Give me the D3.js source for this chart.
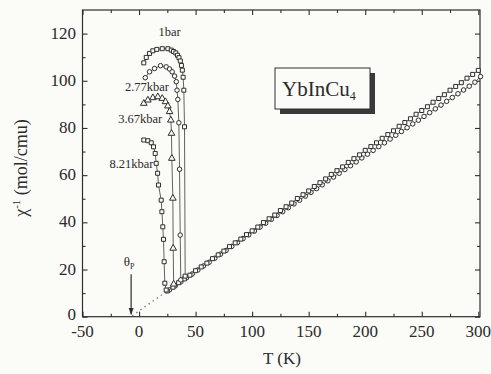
<!DOCTYPE html>
<html>
<head>
<meta charset="utf-8">
<script src="https://d3js.org/d3.v7.min.js"></script>
<style>
  body { margin: 0; background: #fbfbf8; }
  svg { display: block; }
  text, tspan { font-family: "Liberation Serif", "Times New Roman", serif; fill: #2a2a2a; }
</style>
</head>
<body>
<svg id="chart" width="491" height="374"></svg>
<script>
// ---- data ----
var xTicks = [-50, 0, 50, 100, 150, 200, 250, 300];
var yTicks = [0, 20, 40, 60, 80, 100, 120];

// low temperature branches, [T, 1/chi]
var p1bar = [[4.2,107.6],[6.4,109.9],[9.3,111.6],[12.2,112.7],[15.7,113.3],[20.5,113.6],[25.5,113.6],[28.5,113.0],[30.5,112.4],[32.5,111.8],[34,110.8],[35.3,109.8],[36.5,108.4],[37.5,106.5],[38.3,104.5],[39,101.5],[39.6,96],[40.2,80.5],[40.8,17.2]];
var p277 = [[5.5,101.3],[9.3,103.8],[13.7,105.2],[19,106.4],[24,105.9],[27,105],[29.3,103.8],[31.4,102],[32.9,99.6],[33.6,96],[34.3,92.1],[35.2,82.2],[35.8,62.5],[36.4,34.6],[36.9,15.6]];
var p367 = [[4.2,90.4],[7.8,91.8],[12.2,92.8],[16.6,93.2],[20.5,92.5],[23.4,91.1],[25.5,89.3],[27,86.9],[28.1,83.3],[28.7,77.7],[29,67.1],[29.9,50.2],[30.2,29],[30.6,13.8]];
var p821 = [[4.2,74.9],[7.8,74.6],[10.8,73.7],[12.8,72],[14.3,69.2],[15.2,65],[16.4,60.8],[17.2,55.8],[19.6,49.4],[20.2,44.5],[21,38.1],[21.6,32.8],[22.2,23.3],[22.8,14.2],[24,11.3]];

// high temperature Curie-Weiss part (two overlapping runs)
var highT_T = [25,30,35,40,45,50,55,60,65,70,75,80,85,90,95,100,105,110,115,120,125,130,135,140,145,150,155,160,165,170,175,180,185,190,195,200,205,210,215,220,225,230,235,240,245,250,255,260,265,270,275,280,285,290,295,300];
var highT_A = [10.9,12.5,14.4,16.0,17.6,19.5,21.1,22.7,24.6,26.2,27.8,29.7,31.3,32.9,34.8,36.4,38.0,39.9,41.5,43.1,45.0,46.6,48.2,50.1,51.7,53.3,55.2,56.8,58.4,60.3,61.9,63.5,65.4,67.0,68.6,70.5,72.1,73.7,75.6,77.2,78.8,80.7,82.3,83.9,85.8,87.4,89.0,90.9,92.5,94.1,96.0,97.6,99.2,101.1,102.7,104.4];
var highT_T2 = [27,32,37,42,47,52,57,62,67,72,77,82,87,92,97,102,107,112,117,122,127,132,137,142,147,152,157,162,167,172,177,182,187,192,197,202,207,212,217,222,227,232,237,242,247,252,257,262,267,272,277,282,287,292,297,302];
var highT_B = [11.4,13.1,14.8,16.5,18.1,19.8,21.5,23.1,24.8,26.5,28.1,29.8,31.4,33.1,34.7,36.3,38.0,39.6,41.3,42.9,44.5,46.2,47.8,49.4,51.1,52.7,54.3,55.9,57.6,59.2,60.8,62.4,64.0,65.6,67.3,68.9,70.5,72.1,73.7,75.3,76.9,78.5,80.1,81.7,83.3,84.9,86.5,88.1,89.7,91.3,92.9,94.5,96.1,97.7,99.4,101.8];

var thetaP = -7;
var dottedLine = [[-6,0.4],[24,10.6]];

var pressureLabels = [
  { text: "1bar", T: 27, v: 119, anchor: "middle" },
  { text: "2.77kbar", T: 26.5, v: 95.7, anchor: "end" },
  { text: "3.67kbar", T: 20.5, v: 81.9, anchor: "end" },
  { text: "8.21kbar", T: 12.8, v: 63, anchor: "end" }
];

// ---- layout ----
var svg = d3.select("#chart");
var plotL = 82.5, plotR = 480, plotT = 10, plotB = 316.7;

var x = d3.scaleLinear().domain([-50, 301.5]).range([plotL, plotR]);
var y = d3.scaleLinear().domain([0, 130]).range([plotB, plotT]);

var ink = "#2e2e2e";
var paper = "#fbfbf8";

// frame
svg.append("rect")
    .attr("x", plotL).attr("y", plotT)
    .attr("width", plotR - plotL).attr("height", plotB - plotT)
    .attr("fill", "none").attr("stroke", ink).attr("stroke-width", 1.2);

// ticks inward on all four sides, minors halfway
var xMinor = [-25, 25, 75, 125, 175, 225, 275];
var yMinor = [10, 30, 50, 70, 90, 110];

function tickAxis(axisFn, scale, ticks, size, tx, ty) {
    var g = svg.append("g").attr("transform", "translate(" + tx + "," + ty + ")")
        .call(axisFn(scale).tickValues(ticks).tickSize(size).tickFormat(""));
    g.select(".domain").remove();
    g.selectAll(".tick line").attr("stroke", ink).attr("stroke-width", 1.1);
    return g;
}

tickAxis(d3.axisTop, x, xTicks, 5, 0, plotB);
tickAxis(d3.axisTop, x, xMinor, 3, 0, plotB);
tickAxis(d3.axisBottom, x, xTicks, 5, 0, plotT);
tickAxis(d3.axisBottom, x, xMinor, 3, 0, plotT);
tickAxis(d3.axisRight, y, yTicks, 5, plotL, 0);
tickAxis(d3.axisRight, y, yMinor, 3, plotL, 0);
tickAxis(d3.axisLeft, y, yTicks, 5, plotR, 0);
tickAxis(d3.axisLeft, y, yMinor, 3, plotR, 0);

// tick labels
svg.append("g").selectAll("text").data(xTicks).enter().append("text")
    .attr("x", function(d){ return x(d); })
    .attr("y", 337)
    .attr("text-anchor", "middle")
    .style("font-size", "17px")
    .text(function(d){ return d; });

svg.append("g").selectAll("text").data(yTicks).enter().append("text")
    .attr("x", 76)
    .attr("y", function(d){ return y(d) + (d === 0 ? 3 : 5); })
    .attr("text-anchor", "end")
    .style("font-size", "17px")
    .text(function(d){ return d; });

// axis titles
svg.append("text")
    .attr("x", 282).attr("y", 364)
    .attr("text-anchor", "middle")
    .style("font-size", "17px")
    .text("T (K)");

var yt = svg.append("text")
    .attr("transform", "translate(27,168) rotate(-90)")
    .attr("text-anchor", "middle")
    .style("font-size", "18px");
yt.append("tspan").attr("fill", "#2a2a2a").text("χ");
yt.append("tspan").attr("dy", -7).attr("fill", "#2a2a2a").style("font-size", "11px").text("-1");
yt.append("tspan").attr("dy", 7).attr("fill", "#2a2a2a").text(" (mol/cmu)");

// dotted extrapolation
var line = d3.line().x(function(d){ return x(d[0]); }).y(function(d){ return y(d[1]); });

svg.append("path")
    .datum(dottedLine)
    .attr("d", line)
    .attr("stroke", "#777").attr("stroke-width", 1.4)
    .attr("stroke-dasharray", "1.4,3.6").attr("fill", "none");

// theta_P arrow
svg.append("defs").append("marker")
    .attr("id", "head").attr("viewBox", "0 0 10 10")
    .attr("refX", 9).attr("refY", 5)
    .attr("markerWidth", 7).attr("markerHeight", 9)
    .attr("markerUnits", "userSpaceOnUse")
    .attr("orient", "auto")
  .append("path").attr("d", "M0,1.5 L10,5 L0,8.5 Z").attr("fill", ink);

svg.append("line")
    .attr("x1", x(thetaP)).attr("x2", x(thetaP))
    .attr("y1", y(18)).attr("y2", y(1))
    .attr("stroke", ink).attr("stroke-width", 1.2)
    .attr("marker-end", "url(#head)");

var th = svg.append("text")
    .attr("x", x(thetaP) - 2).attr("y", y(21.5))
    .attr("text-anchor", "middle")
    .style("font-size", "13px");
th.append("tspan").attr("fill", "#2a2a2a").text("θ");
th.append("tspan").attr("dy", 3).attr("fill", "#2a2a2a").style("font-size", "8px").text("P");

// series drawing
function drawSeries(pts, shape) {
    svg.append("path").datum(pts)
        .attr("d", line)
        .attr("fill", "none").attr("stroke", "#3a3a3a").attr("stroke-width", 0.8);
    var sym = d3.symbol().type(shape).size(shape === d3.symbolTriangle ? 19 : 16);
    svg.append("g").selectAll("path").data(pts).enter().append("path")
        .attr("d", sym)
        .attr("transform", function(d){ return "translate(" + x(d[0]) + "," + y(d[1]) + ")"; })
        .attr("fill", paper).attr("stroke", ink).attr("stroke-width", 1);
}

var highA = highT_T.map(function(t, i){ return [t, highT_A[i]]; });
var highB = highT_T2.map(function(t, i){ return [t, highT_B[i]]; });

drawSeries(highB, d3.symbolCircle);
drawSeries(highA, d3.symbolSquare);
drawSeries(p821, d3.symbolSquare);
drawSeries(p367, d3.symbolTriangle);
drawSeries(p277, d3.symbolCircle);
drawSeries(p1bar, d3.symbolSquare);

// pressure labels
svg.append("g").selectAll("text").data(pressureLabels).enter().append("text")
    .attr("x", function(d){ return x(d.T); })
    .attr("y", function(d){ return y(d.v); })
    .attr("text-anchor", function(d){ return d.anchor; })
    .style("font-size", "12.5px")
    .text(function(d){ return d.text; });

// compound label box with shadow
svg.append("rect").attr("x", 280).attr("y", 73).attr("width", 95).attr("height", 41).attr("fill", "#3a3a3a");
svg.append("rect").attr("x", 275).attr("y", 68).attr("width", 95).attr("height", 41)
    .attr("fill", paper).attr("stroke", ink).attr("stroke-width", 1);
var lbl = svg.append("text").attr("x", 282).attr("y", 96).style("font-size", "21px");
lbl.append("tspan").attr("fill", "#2a2a2a").text("YbInCu");
lbl.append("tspan").attr("dy", 4).attr("fill", "#2a2a2a").style("font-size", "12px").text("4");
</script>
</body>
</html>
